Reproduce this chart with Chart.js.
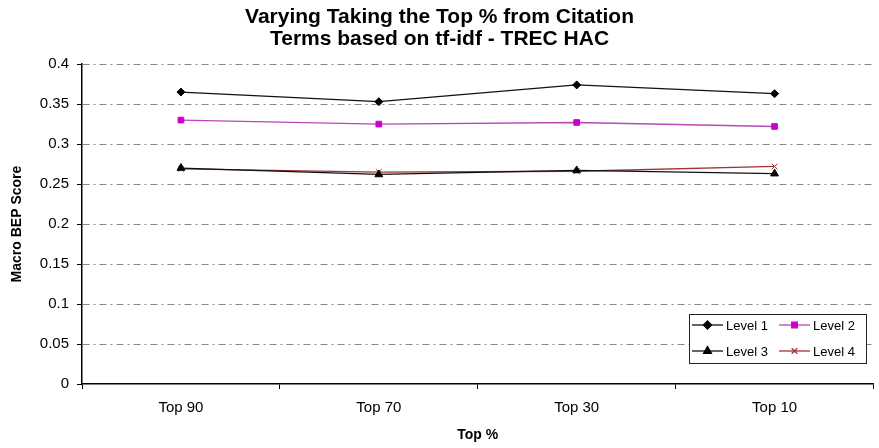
<!DOCTYPE html>
<html>
<head>
<meta charset="utf-8">
<script src="https://cdn.jsdelivr.net/npm/chart.js@4"></script>
<style>
    html, body { margin: 0; padding: 0; background: #fff; }
    #chart { display: block; }
</style>
</head>
<body>
<canvas id="chart" width="879" height="448"></canvas>
<script>
// Data
const categories = ['Top 90', 'Top 70', 'Top 30', 'Top 10'];
const seriesNames = ['Level 1', 'Level 2', 'Level 3', 'Level 4'];
const level1 = [0.365, 0.353, 0.374, 0.363];
const level2 = [0.330, 0.325, 0.327, 0.322];
const level3 = [0.270, 0.262, 0.267, 0.263];
const level4 = [0.269, 0.265, 0.266, 0.272];
const yTicks = { min: 0, max: 0.4, step: 0.05 };

const FONT = "'Liberation Sans', Arial, sans-serif";

const makeSeries = (label, data, line, point, style, radius) => ({
    label: label,
    data: data,
    borderColor: line,
    borderWidth: 1.3,
    backgroundColor: point,
    pointBackgroundColor: point,
    pointBorderColor: point,
    pointStyle: style,
    pointRadius: radius,
    pointBorderWidth: 1,
    tension: 0,
    fill: false
});

const datasets = [
    makeSeries(seriesNames[0], level1, '#111111', '#000000', 'rectRot', 4),
    makeSeries(seriesNames[1], level2, '#b848b8', '#cc00cc', 'rect', 4),
    makeSeries(seriesNames[2], level3, '#111111', '#000000', 'triangle', 4.5),
    makeSeries(seriesNames[3], level4, '#a03434', '#a03434', 'crossRot', 4)
];

// legend box drawn inside the plot, like the original
const boxLegend = {
    id: 'boxLegend',
    afterDraw: (chart) => {
        const ctx = chart.ctx;
        const box = { x: 689.5, y: 314.5, w: 177, h: 49 };
        const rows = [325, 351];
        const cols = [692, 779];
        ctx.save();
        ctx.fillStyle = '#fff';
        ctx.fillRect(box.x, box.y, box.w, box.h);
        ctx.strokeStyle = '#222';
        ctx.lineWidth = 1;
        ctx.strokeRect(box.x, box.y, box.w, box.h);
        ctx.font = '13px ' + FONT;
        ctx.textBaseline = 'middle';
        chart.data.datasets.forEach((ds, i) => {
            const x = cols[i % 2];
            const y = rows[Math.floor(i / 2)];
            ctx.strokeStyle = ds.borderColor;
            ctx.lineWidth = 1.3;
            ctx.beginPath();
            ctx.moveTo(x, y);
            ctx.lineTo(x + 31, y);
            ctx.stroke();
            ctx.fillStyle = ds.pointBackgroundColor;
            ctx.strokeStyle = ds.pointBorderColor;
            Chart.helpers.drawPoint(ctx, {
                pointStyle: ds.pointStyle,
                radius: ds.pointRadius,
                borderWidth: 1
            }, x + 15.5, y);
            ctx.fillStyle = '#000';
            ctx.fillText(ds.label, x + 34, y + 1);
        });
        ctx.restore();
    }
};

new Chart(document.querySelector('#chart'), {
    type: 'line',
    data: { labels: categories, datasets: datasets },
    options: {
        responsive: false,
        animation: false,
        layout: { padding: { left: 0, right: 0, top: 0, bottom: 0 } },
        plugins: {
            legend: { display: false },
            tooltip: { enabled: false },
            title: {
                display: true,
                text: ['Varying Taking the Top % from Citation', 'Terms based on tf-idf - TREC HAC'],
                color: '#000',
                font: { family: FONT, size: 21, weight: 'bold', lineHeight: 1.05 },
                padding: { top: 6, bottom: 14 }
            }
        },
        scales: {
            x: {
                offset: true,
                grid: {
                    offset: true,
                    drawOnChartArea: false,
                    drawTicks: true,
                    tickLength: 5,
                    tickColor: '#000'
                },
                border: { display: true, color: '#000', width: 1.5 },
                ticks: {
                    color: '#000',
                    padding: 10,
                    font: { family: FONT, size: 15 }
                },
                title: {
                    display: true,
                    text: 'Top %',
                    color: '#000',
                    font: { family: FONT, size: 14, weight: 'bold' },
                    padding: { top: 0, bottom: 4 }
                },
                afterFit: (scale) => { scale.height = 64; }
            },
            y: {
                min: yTicks.min,
                max: yTicks.max,
                ticks: {
                    stepSize: yTicks.step,
                    color: '#000',
                    padding: 8,
                    font: { family: FONT, size: 15 },
                    callback: (v) => String(+v.toFixed(2))
                },
                grid: {
                    color: (c) => c.tick && c.tick.value === 0 ? 'rgba(0,0,0,0)' : '#8a8a8a',
                    lineWidth: 1,
                    drawTicks: true,
                    tickLength: 5,
                    tickColor: '#000',
                    tickBorderDash: []
                },
                border: { display: true, color: '#000', width: 1.5, dash: [7, 4, 2, 4] },
                title: {
                    display: true,
                    text: 'Macro BEP Score',
                    color: '#000',
                    font: { family: FONT, size: 14, weight: 'bold' },
                    padding: { top: 9, bottom: 0 }
                },
                afterFit: (scale) => { scale.width = 82; }
            }
        }
    },
    plugins: [boxLegend]
});
</script>
</body>
</html>
